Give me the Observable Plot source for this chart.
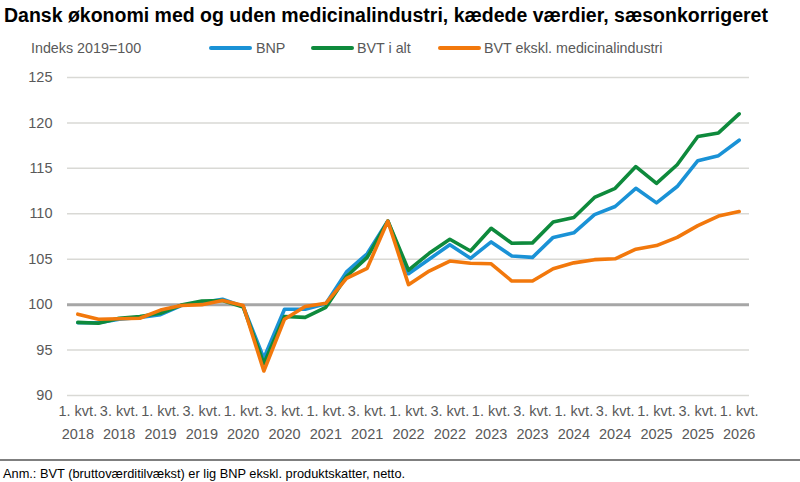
<!DOCTYPE html>
<html><head><meta charset="utf-8">
<script src="https://cdn.jsdelivr.net/npm/d3@7"></script>
<script src="https://cdn.jsdelivr.net/npm/@observablehq/plot@0.6"></script>
<style>
body{margin:0;background:#fff;font-family:"Liberation Sans",Arial,sans-serif;}
#wrap{position:relative;width:800px;height:482px;overflow:hidden;background:#fff;}
#title{position:absolute;left:4px;top:4px;font-size:19.5px;line-height:22px;font-weight:bold;color:#000;white-space:nowrap;}
.lg{position:absolute;top:40px;font-size:14.3px;line-height:16px;color:#595959;white-space:nowrap;}
.sw{position:absolute;top:46px;height:4px;width:43px;border-radius:2px;}
#chart{position:absolute;left:0;top:0;}
#sep{position:absolute;left:0;top:459px;width:800px;height:2px;background:#7f7f7f;}
#note{position:absolute;left:3px;top:467px;font-size:12.8px;line-height:14px;color:#000;white-space:nowrap;}
</style></head><body>
<div id="wrap">
<div id="chart"></div>
<div id="title">Dansk økonomi med og uden medicinalindustri, kædede værdier, sæsonkorrigeret</div>
<div id="legend"></div>
<div id="sep"></div>
<div id="note">Anm.: BVT (bruttoværditilvækst) er lig BNP ekskl. produktskatter, netto.</div>
</div>
<script>
const quarters = [
"1. kvt. 2018","2. kvt. 2018","3. kvt. 2018","4. kvt. 2018",
"1. kvt. 2019","2. kvt. 2019","3. kvt. 2019","4. kvt. 2019",
"1. kvt. 2020","2. kvt. 2020","3. kvt. 2020","4. kvt. 2020",
"1. kvt. 2021","2. kvt. 2021","3. kvt. 2021","4. kvt. 2021",
"1. kvt. 2022","2. kvt. 2022","3. kvt. 2022","4. kvt. 2022",
"1. kvt. 2023","2. kvt. 2023","3. kvt. 2023","4. kvt. 2023",
"1. kvt. 2024","2. kvt. 2024","3. kvt. 2024","4. kvt. 2024",
"1. kvt. 2025","2. kvt. 2025","3. kvt. 2025","4. kvt. 2025",
"1. kvt. 2026"];
const tickQuarters = [
"1. kvt. 2018","3. kvt. 2018","1. kvt. 2019","3. kvt. 2019","1. kvt. 2020","3. kvt. 2020",
"1. kvt. 2021","3. kvt. 2021","1. kvt. 2022","3. kvt. 2022","1. kvt. 2023","3. kvt. 2023",
"1. kvt. 2024","3. kvt. 2024","1. kvt. 2025","3. kvt. 2025","1. kvt. 2026"];
const yTicks = [90, 95, 100, 105, 110, 115, 120, 125];

const bnp = [98.0,98.0,98.4,98.6,98.9,99.9,100.2,100.6,99.8,94.1,99.5,99.5,100.1,103.6,105.6,109.2,
  103.4,105.0,106.6,105.1,106.9,105.35,105.2,107.4,107.9,109.9,110.8,112.8,111.2,113.0,115.85,116.4,118.1];
const bvt = [98.05,97.95,98.5,98.7,99.05,99.95,100.4,100.45,99.75,93.5,98.7,98.6,99.7,103.1,105.2,109.2,
  103.8,105.65,107.2,105.9,108.4,106.75,106.8,109.1,109.6,111.8,112.8,115.2,113.35,115.4,118.5,118.9,121.0];
const bvtEx = [98.95,98.4,98.45,98.5,99.4,99.9,100.0,100.45,99.9,92.7,98.4,99.8,100.15,102.9,104.0,109.2,
  102.2,103.7,104.8,104.55,104.5,102.6,102.6,103.95,104.6,104.95,105.05,106.1,106.5,107.4,108.7,109.75,110.25];

const seriesNames = ["BNP", "BVT i alt", "BVT ekskl. medicinalindustri"];
const seriesColors = ["#1a92d6", "#0e8a3c", "#f2780c"];
const seriesValues = [bnp, bvt, bvtEx];

// legend
const leg = document.getElementById("legend");
const legPos = [[209, 256], [311, 357], [438, 484]];
let h = `<div class="lg" style="left:31px">Indeks 2019=100</div>`;
seriesNames.forEach((n, i) => {
  h += `<div class="sw" style="left:${legPos[i][0]}px;background:${seriesColors[i]}"></div>`;
  h += `<div class="lg" style="left:${legPos[i][1]}px">${n}</div>`;
});
leg.innerHTML = h;

const lineMarks = seriesValues.map((vals, k) =>
  Plot.line(vals, {x: (d, i) => quarters[i], y: d => d, stroke: seriesColors[k], strokeWidth: 3.6, strokeLinejoin: "round"})
);

const chart = Plot.plot({
  width: 800,
  height: 455,
  marginTop: 77,
  marginBottom: 60,
  marginLeft: 67,
  marginRight: 51,
  style: {fontFamily: '"Liberation Sans", Arial, sans-serif', background: "transparent"},
  x: {type: "band", domain: quarters, padding: 0, round: false},
  y: {domain: [90, 125]},
  marks: [
    Plot.ruleY(yTicks.filter(v => v !== 100), {stroke: "#d9d9d5", strokeWidth: 1.5}),
    Plot.axisY({ticks: yTicks, tickSize: 0, tickPadding: 15, fontSize: 14.5, fill: "#595959", label: null}),
    Plot.axisX({ticks: tickQuarters, tickSize: 0, tickPadding: 10, fontSize: 14.5, fill: "#595959", label: null,
      tickFormat: d => d.split(" ").slice(0, 2).join(" ")}),
    Plot.axisX({ticks: tickQuarters, tickSize: 0, tickPadding: 33, fontSize: 14.5, fill: "#595959", label: null,
      tickFormat: d => d.split(" ")[2]}),
    Plot.ruleY([100], {stroke: "#a6a6a6", strokeWidth: 3}),
    ...lineMarks
  ]
});
document.getElementById("chart").appendChild(chart);
</script>
</body></html>
